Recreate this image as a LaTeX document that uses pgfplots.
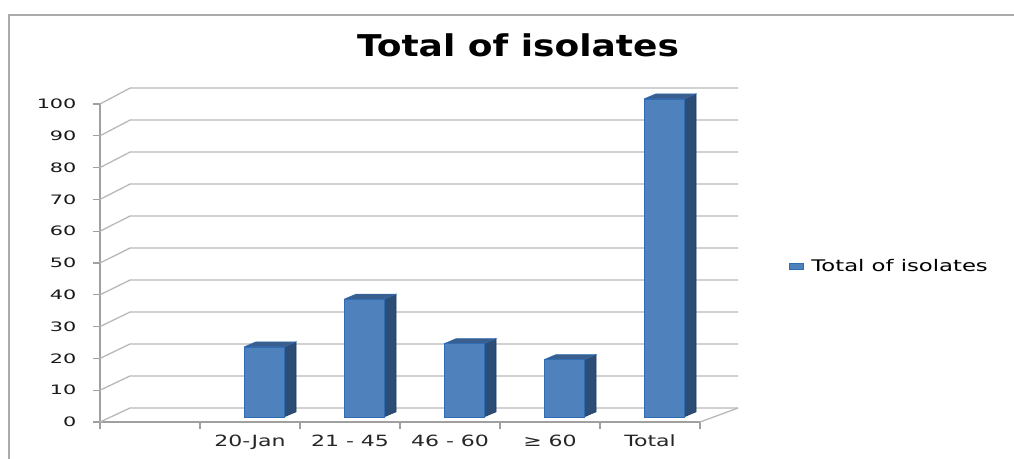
\documentclass[border=0pt]{standalone}
\usepackage{fontspec}
\setmainfont{DejaVu Sans}
\newfontfamily\tickfam[FakeStretch=1.6]{DejaVu Sans}
\newfontfamily\labfam[FakeStretch=1.42]{DejaVu Sans}
\newfontfamily\titlefam[FakeStretch=1.2]{DejaVu Sans}
\usepackage{pgfplots}
\usepackage{pgfplotstable}
\pgfplotsset{compat=1.18}

\definecolor{barfront}{HTML}{4F81BD}
\definecolor{barside}{HTML}{2C4D75}
\definecolor{bartop}{HTML}{3A5F8F}
\definecolor{baredge}{HTML}{2E6DB4}
\definecolor{gridgray}{HTML}{B8B8B8}
\definecolor{axisgray}{HTML}{A0A0A0}
\definecolor{framegray}{HTML}{ABABAB}

\newcommand\ytickfont{\tickfam\fontsize{13}{13}\selectfont}
\newcommand\xlabfont{\labfam\fontsize{15.5}{15.5}\selectfont}
\newcommand\legfont{\labfam\fontsize{16}{16}\selectfont}

\pgfplotstableread{
c v
1.5 22
2.5 37
3.5 23
4.5 18
5.5 100
}\isolates

\begin{document}
\begin{tikzpicture}
\path[use as bounding box] (0,0) rectangle (1014pt,458pt);
\draw[framegray, line width=1.5pt] (9pt,-2pt) -- (9pt,443pt) -- (1016pt,443pt);
\node[font=\titlefam\bfseries\fontsize{30}{30}\selectfont, anchor=base] at (518pt,401pt) {Total of isolates};
\begin{axis}[
  at={(100pt,36pt)}, anchor=south west,
  scale only axis, width=600pt, height=318pt,
  xmin=0, xmax=6, ymin=0, ymax=100,
  clip=false,
  axis x line*=bottom, axis y line*=left,
  axis line style={-, draw=axisgray, line width=1.2pt},
  tick align=outside, major tick length=7pt,
  tick style={draw=axisgray, line width=1.2pt},
  ytick={0,10,...,100},
  xtick={0,1,2,3,4,5,6}, xticklabels={},
  extra x ticks={1.5,2.5,3.5,4.5,5.5},
  extra x tick labels={20-Jan,21 - 45,46 - 60,≥ 60,Total},
  extra x tick style={tick style={draw=none}},
  yticklabel style={font=\ytickfont, text=black!90, xshift=-13pt},
  xticklabel style={font=\xlabfont, text=black!85, yshift=-2pt},
  /pgf/number format/assume math mode=true,
  legend style={at={(axis description cs:1.148,0.49)}, anchor=west, draw=none, fill=none, font=\legfont, inner sep=0pt,
    /tikz/every odd column/.append style={column sep=6pt}},
  legend image code/.code={\fill[barfront, draw=baredge] (0pt,-3pt) rectangle (14pt,3pt);},
]
% back wall grid and side diagonals
\pgfplotsinvokeforeach{0,10,...,100}{%
  \pgfmathsetmacro\gy{4.4+1.006*#1}%
  \edef\gridcmd{\noexpand\addplot[forget plot, gridgray, line width=1.3pt] coordinates {(0,#1) (0.3,\gy) (6.38,\gy)};}%
  \gridcmd
}
\addplot[forget plot, gridgray, line width=1.3pt] coordinates {(6,0) (6.38,4.4)};
% 3D bars from the table
\pgfplotsinvokeforeach{0,...,4}{%
  \pgfplotstablegetelem{#1}{c}\of\isolates \pgfmathsetmacro\cc{\pgfplotsretval}%
  \pgfplotstablegetelem{#1}{v}\of\isolates \pgfmathsetmacro\vv{\pgfplotsretval}%
  \pgfmathsetmacro\xa{\cc-0.06}\pgfmathsetmacro\xb{\cc+0.34}%
  \pgfmathsetmacro\xc{\cc+0.46}\pgfmathsetmacro\xd{\cc+0.06}%
  \pgfmathsetmacro\ya{1.6}\pgfmathsetmacro\yb{1.6+\vv}%
  \pgfmathsetmacro\yc{3.2}\pgfmathsetmacro\yd{3.2+\vv}%
  \edef\barcmd{%
    \noexpand\addplot[forget plot, fill=barside, draw=barside!80!black, line width=0.6pt] coordinates {(\xb,\ya) (\xc,\yc) (\xc,\yd) (\xb,\yb) (\xb,\ya)};
    \noexpand\addplot[forget plot, fill=bartop, draw=baredge, line width=0.6pt] coordinates {(\xa,\yb) (\xd,\yd) (\xc,\yd) (\xb,\yb) (\xa,\yb)};
    \noexpand\addplot[forget plot, fill=barfront, draw=baredge, line width=0.8pt] coordinates {(\xa,\ya) (\xb,\ya) (\xb,\yb) (\xa,\yb) (\xa,\ya)};
  }%
  \barcmd
}
\addlegendimage{barfront}
\addlegendentry{Total of isolates}
\end{axis}
\end{tikzpicture}
\end{document}
